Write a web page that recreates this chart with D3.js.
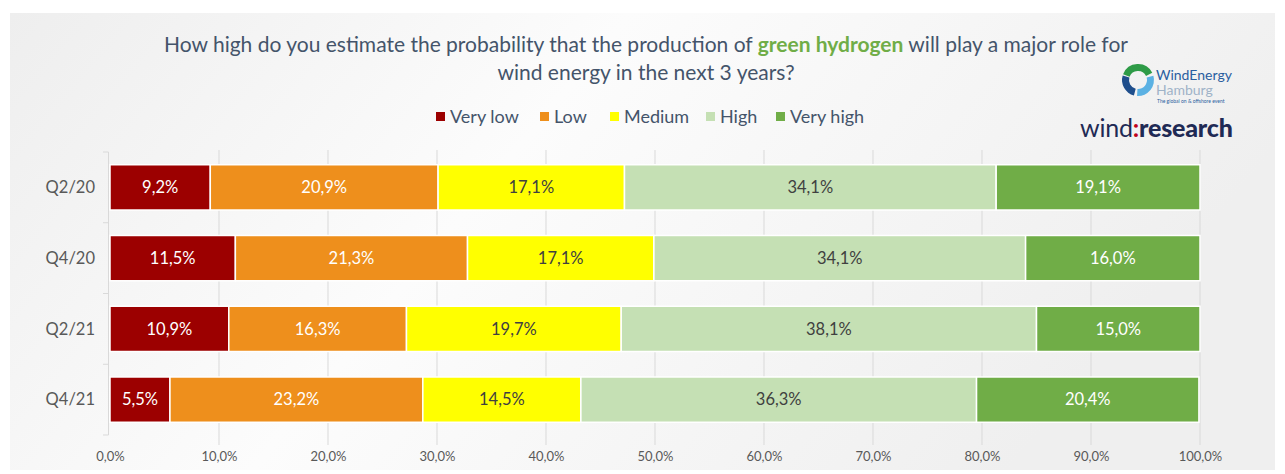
<!DOCTYPE html>
<html>
<head>
<meta charset="utf-8">
<script src="https://cdn.jsdelivr.net/npm/d3@7"></script>
<style>
  body { margin: 0; background: #fff; }
  svg text { font-family: Lato, "Open Sans", sans-serif; }
</style>
</head>
<body>
<div id="chart"></div>
<script>
// data
const quarters = ["Q2/20", "Q4/20", "Q2/21", "Q4/21"];
const answers = ["Very low", "Low", "Medium", "High", "Very high"];
const veryLow = [9.2, 11.5, 10.9, 5.5];
const low = [20.9, 21.3, 16.3, 23.2];
const medium = [17.1, 17.1, 19.7, 14.5];
const high = [34.1, 34.1, 38.1, 36.3];
const veryHigh = [19.1, 16.0, 15.0, 20.4];
const xTicks = [0, 10, 20, 30, 40, 50, 60, 70, 80, 90, 100];

const colors = ["#9c0000", "#ee8f1c", "#ffff00", "#c5e0b4", "#70ad47"];
const labelColors = ["#fff", "#fff", "#404040", "#404040", "#fff"];

const width = 1285, height = 474;
const margin = { top: 152, bottom: 39, left: 110, right: 85 };

const series = [veryLow, low, medium, high, veryHigh];
const rows = quarters.map((q, i) => {
  const r = { quarter: q };
  answers.forEach((a, j) => r[a] = series[j][i]);
  return r;
});
const stacked = d3.stack().keys(answers)(rows);

const fmt = v => d3.format(".1f")(v).replace(".", ",") + "%";

const svg = d3.select("#chart").append("svg")
  .attr("width", width)
  .attr("height", height);

// background panel
const defs = svg.append("defs");
const grad = defs.append("linearGradient").attr("id", "bg")
  .attr("x1", "0%").attr("y1", "0%").attr("x2", "100%").attr("y2", "30%");
grad.append("stop").attr("offset", "0%").attr("stop-color", "#eeeeee");
grad.append("stop").attr("offset", "45%").attr("stop-color", "#fcfcfc");
grad.append("stop").attr("offset", "100%").attr("stop-color", "#efefef");
svg.append("rect").attr("x", 10).attr("y", 13).attr("width", 1265).attr("height", 457)
  .attr("fill", "url(#bg)");

const x = d3.scaleLinear().domain([0, 100]).range([margin.left, width - margin.right]);
const y = d3.scaleBand().domain(quarters)
  .range([margin.top, height - margin.bottom])
  .paddingInner(0.36).paddingOuter(0.18);
const yBand = d3.scaleBand().domain(quarters).range([margin.top, height - margin.bottom]);

// grid
svg.append("g")
  .selectAll("line").data(xTicks.slice(1)).join("line")
  .attr("x1", d => x(d)).attr("x2", d => x(d))
  .attr("y1", margin.top - 2).attr("y2", height - margin.bottom + 10)
  .attr("stroke", "#d9d9d9").attr("stroke-width", 1);

// y axis line + ticks
svg.append("line")
  .attr("x1", margin.left - 1.5).attr("x2", margin.left - 1.5)
  .attr("y1", margin.top).attr("y2", height - margin.bottom)
  .attr("stroke", "#d9d9d9");
svg.append("g").selectAll("line")
  .data(quarters.map(q => yBand(q)).concat([height - margin.bottom]))
  .join("line")
  .attr("x1", margin.left - 7).attr("x2", margin.left - 1.5)
  .attr("y1", d => d).attr("y2", d => d)
  .attr("stroke", "#d9d9d9");

// bars
const layer = svg.append("g").selectAll("g").data(stacked).join("g")
  .attr("fill", (d, i) => colors[i]);
layer.selectAll("rect").data(d => d).join("rect")
  .attr("x", d => x(d[0]))
  .attr("y", d => y(d.data.quarter))
  .attr("width", d => x(Math.min(d[1], 100)) - x(d[0]))
  .attr("height", y.bandwidth())
  .attr("stroke", "#fff").attr("stroke-width", 1.5);

// data labels
stacked.forEach((s, i) => {
  svg.append("g").selectAll("text").data(s).join("text")
    .attr("x", d => (x(d[0]) + x(Math.min(d[1], 100))) / 2)
    .attr("y", d => y(d.data.quarter) + y.bandwidth() / 2)
    .attr("dy", "0.35em")
    .attr("text-anchor", "middle")
    .attr("font-size", 16.5)
    .attr("fill", labelColors[i])
    .text(d => fmt(d.data[s.key]));
});

// category labels
svg.append("g").selectAll("text").data(quarters).join("text")
  .attr("x", 95)
  .attr("y", d => y(d) + y.bandwidth() / 2)
  .attr("dy", "0.35em")
  .attr("text-anchor", "end")
  .attr("font-size", 16.5)
  .attr("fill", "#595959")
  .text(d => d);

// x axis labels
const xAxis = d3.axisBottom(x).tickValues(xTicks).tickSize(0).tickFormat(d => fmt(d));
svg.append("g")
  .attr("transform", `translate(0, ${height - margin.bottom + 14})`)
  .call(xAxis)
  .call(g => g.select(".domain").remove())
  .call(g => g.selectAll("text")
    .attr("font-size", 13)
    .attr("fill", "#595959")
    .style("font-family", "Lato, sans-serif"));

// title
const title = svg.append("text")
  .attr("text-anchor", "middle")
  .attr("font-size", 21)
  .attr("fill", "#44546a");
title.append("tspan").attr("x", 646).attr("y", 52)
  .text("How high do you estimate the probability that the production of ");
title.append("tspan").attr("fill", "#70ad47").attr("font-weight", "bold").text("green hydrogen");
title.append("tspan").text(" will play a major role for");
title.append("tspan").attr("x", 646).attr("y", 80).text("wind energy in the next 3 years?");

// legend
const legendX = [436, 540, 610, 706, 776];
const legend = svg.append("g").selectAll("g").data(answers).join("g")
  .attr("transform", (d, i) => `translate(${legendX[i]}, 117)`);
legend.append("rect")
  .attr("x", 0).attr("y", -5).attr("width", 9).attr("height", 9)
  .attr("fill", (d, i) => colors[i]);
legend.append("text")
  .attr("x", 14).attr("y", 0).attr("dy", "0.35em")
  .attr("font-size", 18).attr("fill", "#44546a")
  .text(d => d);

// logos
const logo = svg.append("g").attr("transform", "translate(1138, 80)");
logo.append("path")
  .attr("d", d3.arc()({ innerRadius: 9, outerRadius: 16, startAngle: -1.2, endAngle: 1.1 }))
  .attr("fill", "#2e9b47");
logo.append("path")
  .attr("d", d3.arc()({ innerRadius: 9, outerRadius: 16, startAngle: 3.4, endAngle: 5.0 }))
  .attr("fill", "#1f4e8c");
logo.append("path")
  .attr("d", d3.arc()({ innerRadius: 9, outerRadius: 16, startAngle: 1.3, endAngle: 3.2 }))
  .attr("fill", "#5bb1e3");
svg.append("text").attr("x", 1156).attr("y", 80)
  .attr("font-size", 14).attr("fill", "#2a5ea0").text("WindEnergy");
svg.append("text").attr("x", 1156).attr("y", 95)
  .attr("font-size", 14).attr("fill", "#9fb3c8").text("Hamburg");
svg.append("text").attr("x", 1157).attr("y", 103)
  .attr("font-size", 5).attr("fill", "#2a5ea0").text("The global on & offshore event");
const wr = svg.append("text").attr("x", 1080).attr("y", 137)
  .attr("font-size", 25).attr("fill", "#1f2a55").attr("letter-spacing", -0.2);
wr.append("tspan").text("wind");
wr.append("tspan").attr("fill", "#c0001a").attr("font-weight", "bold").text(":");
wr.append("tspan").attr("font-weight", "900").text("research");
</script>
</body>
</html>
